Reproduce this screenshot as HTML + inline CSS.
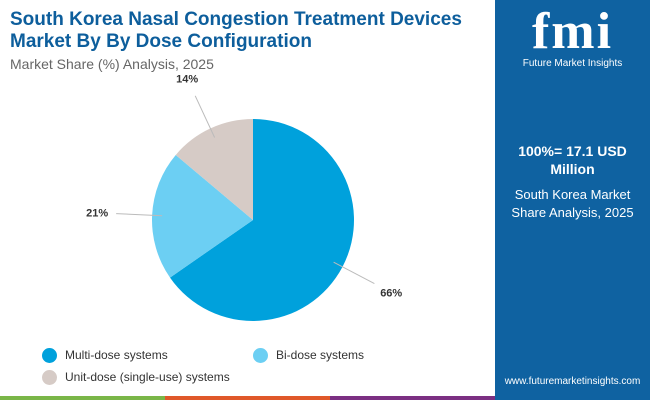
<!DOCTYPE html>
<html><head><meta charset="utf-8"><style>
body{margin:0;width:650px;height:400px;overflow:hidden;font-family:"Liberation Sans",sans-serif;background:#fff;position:relative}
.t{position:absolute;left:10px;color:#0d5e9c;font-weight:bold;font-size:19px;line-height:22px}
</style></head><body>
<div class="t" style="top:9px">South Korea Nasal Congestion Treatment Devices<br>Market By By Dose Configuration</div>
<div style="position:absolute;left:10px;top:56px;font-size:14px;color:#666">Market Share (%) Analysis, 2025</div>
<svg id="pie" width="495" height="340" style="position:absolute;left:0;top:0"></svg>
<div style="position:absolute;left:495px;top:0;width:155px;height:400px;background:#0f62a1">
 <div style="position:absolute;top:4px;width:155px;text-align:center;color:#fff;font-size:52px;font-weight:bold;letter-spacing:2px;line-height:56px;font-family:'Liberation Serif',serif">fmi</div>
 <div style="position:absolute;top:58px;width:155px;text-align:center;color:#fff;font-size:10px">Future Market Insights</div>
 <div style="position:absolute;top:142px;width:155px;text-align:center;color:#fff;font-size:14px;font-weight:bold;line-height:18px">100%= 17.1 USD<br>Million</div>
 <div style="position:absolute;top:186px;width:155px;text-align:center;color:#fff;font-size:13px;line-height:18px">South Korea Market<br>Share Analysis, 2025</div>
 <div style="position:absolute;top:376px;width:155px;text-align:center;color:#fff;font-size:10px">www.futuremarketinsights.com</div>
</div>
<div style="position:absolute;top:396px;left:0;width:165px;height:4px;background:#7ab648"></div>
<div style="position:absolute;top:396px;left:165px;width:165px;height:4px;background:#e0582a"></div>
<div style="position:absolute;top:396px;left:330px;width:165px;height:4px;background:#7b2f82"></div>
<div id="legend"></div>
<script>
const categories=["Multi-dose systems","Bi-dose systems","Unit-dose (single-use) systems"];
const values=[66,21,14];
const labels=["66%","21%","14%"];
const colors=["#00a1dc","#6ccff3","#d6cbc6"];
const svg=document.getElementById('pie');
const NS="http://www.w3.org/2000/svg";
const cx=253,cy=220,r=101;
const total=values.reduce((a,b)=>a+b,0);
let a0=0;
values.forEach((v,i)=>{
  const a1=a0+v/total*2*Math.PI;
  const p=(a)=>[cx+r*Math.sin(a),cy-r*Math.cos(a)];
  const [x0,y0]=p(a0),[x1,y1]=p(a1);
  const path=document.createElementNS(NS,'path');
  path.setAttribute('d',`M${cx},${cy}L${x0},${y0}A${r},${r} 0 ${a1-a0>Math.PI?1:0} 1 ${x1},${y1}Z`);
  path.setAttribute('fill',colors[i]);
  
  
  svg.appendChild(path);
  const am=(a0+a1)/2;
  const [ex,ey]=[cx+(r-10)*Math.sin(am),cy-(r-10)*Math.cos(am)];
  const [ox,oy]=[cx+(r+36)*Math.sin(am),cy-(r+36)*Math.cos(am)];
  const ln=document.createElementNS(NS,'line');
  ln.setAttribute('x1',ex);ln.setAttribute('y1',ey);ln.setAttribute('x2',ox);ln.setAttribute('y2',oy);
  ln.setAttribute('stroke','#bbb');ln.setAttribute('stroke-width','1');
  
  
  svg.appendChild(ln);
  const t=document.createElementNS(NS,'text');
  const lx=cx+(r+55)*Math.sin(am),ly=cy-(r+55)*Math.cos(am)+4;
  t.setAttribute('x',lx);t.setAttribute('y',ly);
  t.setAttribute('text-anchor','middle');t.setAttribute('font-size','11');t.setAttribute('font-weight','bold');
  t.setAttribute('fill','#333');t.setAttribute('font-family','Liberation Sans, sans-serif');
  t.textContent=labels[i];
  
  
  svg.appendChild(t);
  a0=a1;
});
const lg=document.getElementById('legend');
const lp=[[42,347],[253,347],[42,369]];
categories.forEach((c,i)=>{
  const d=document.createElement('div');
  
  
  d.style.cssText=`position:absolute;left:${lp[i][0]}px;top:${lp[i][1]}px;font-size:12px;color:#333;display:flex;align-items:center;height:16px`;
  d.innerHTML=`<span style="display:inline-block;width:15px;height:15px;border-radius:50%;background:${colors[i]};margin-right:8px"></span>${c}`;
  lg.appendChild(d);
});
</script>
</body></html>
